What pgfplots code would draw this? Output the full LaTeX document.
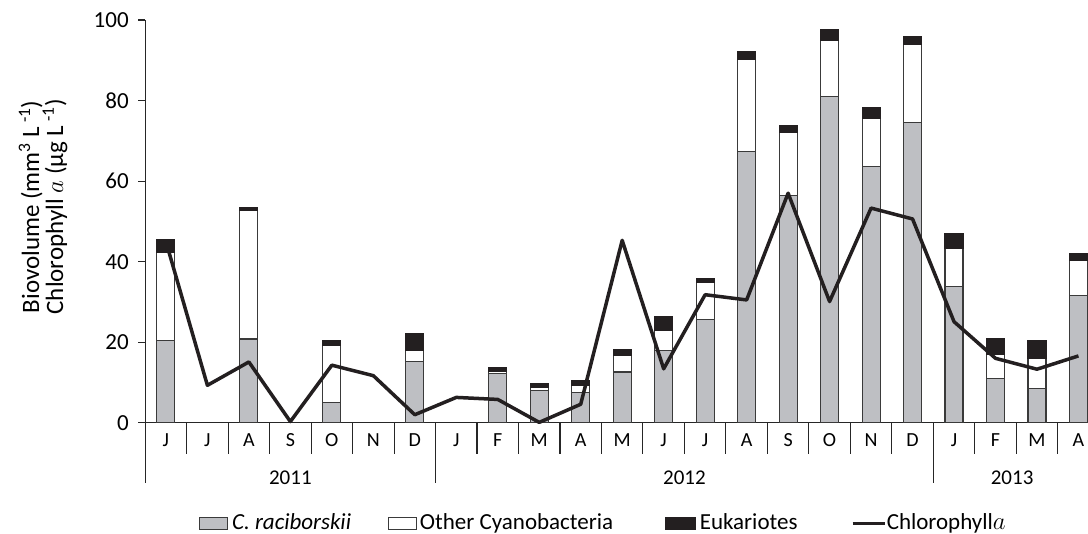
\documentclass[border=0pt]{standalone}
\usepackage{pgfplots}
\pgfplotsset{compat=1.18}
\usepackage{fontspec}
\setmainfont{Carlito}
\definecolor{crac}{HTML}{BEBFC3}
\definecolor{euk}{HTML}{231F20}
\definecolor{edge}{HTML}{3A3A3A}

\begin{document}
\begin{tikzpicture}
\begin{axis}[
    at={(145.25pt,110pt)}, anchor=south west,
    scale only axis, width=942.75pt, height=403pt,
    xmin=-0.5, xmax=22.2169, ymin=0, ymax=100,
    ybar stacked, bar width=18pt, reverse stacked plots=false,
    axis x line*=bottom, axis y line*=left,
    axis line style={line width=1.1pt, color=black!85},
    xtick={0,...,22},
    xticklabels={J,J,A,S,O,N,D,J,F,M,A,M,J,J,A,S,O,N,D,J,F,M,A},
    xtick style={draw=none},
    xticklabel style={font=\fontsize{20}{24}\selectfont, anchor=center, yshift=-17pt},
    ytick={0,20,...,100},
    ytick align=outside, major tick length=7pt,
    ytick style={line width=1.1pt, color=black!85},
    yticklabel style={font=\fontsize{23}{27}\selectfont, xshift=-6pt},
    /pgf/number format/assume math mode=true,
    clip=false,
]
% C. raciborskii
\addplot[fill=crac, draw=edge, line width=1.1pt] coordinates {
    (0,20.4) (2,20.8) (4,5.0) (6,15.3) (8,12.3) (9,8.1) (10,7.5) (11,12.6)
    (12,17.9) (13,25.6) (14,67.3) (15,56.4) (16,81.0) (17,63.6) (18,74.6)
    (19,33.8) (20,11.1) (21,8.4) (22,31.6)};
% other cyanobacteria
\addplot[fill=white, draw=edge, line width=1.1pt] coordinates {
    (0,22.0) (2,31.8) (4,14.1) (6,2.7) (8,0.5) (9,0.7) (10,1.7) (11,4.1)
    (12,5.1) (13,9.2) (14,22.9) (15,15.7) (16,14.0) (17,12.0) (18,19.4)
    (19,9.5) (20,5.8) (21,7.6) (22,8.6)};
% eukaryotes
\addplot[fill=euk, draw=euk, line width=1.1pt] coordinates {
    (0,3.0) (2,0.9) (4,1.2) (6,4.2) (8,1.0) (9,1.0) (10,1.2) (11,1.4)
    (12,3.4) (13,1.0) (14,1.9) (15,1.8) (16,2.7) (17,2.6) (18,1.8)
    (19,3.6) (20,4.1) (21,4.4) (22,1.7)};
% chlorophyll a
\addplot[sharp plot, stack plots=false, line width=3.5pt, color=euk, line join=round] coordinates {
    (0,45.0) (1,9.3) (2,15.1) (3,0.3) (4,14.3) (5,11.7) (6,2.0) (7,6.3)
    (8,5.8) (9,0.1) (10,4.6) (11,45.3) (12,13.4) (13,31.8) (14,30.5)
    (15,57.0) (16,30.1) (17,53.3) (18,50.6) (19,25.1) (20,16.0) (21,13.3) (22,16.6)};

% month and year separators
\pgfplotsinvokeforeach{0,...,21}{
    \draw[line width=1.1pt, color=black!85] (axis cs:#1.5,0) -- ++(0pt,-31pt);
}
\draw[line width=1.1pt, color=black!85] (axis cs:-0.5,0) -- ++(0pt,-60pt);
\draw[line width=1.1pt, color=black!85] (axis cs:6.5,0) -- ++(0pt,-60pt);
\draw[line width=1.1pt, color=black!85] (axis cs:18.5,0) -- ++(0pt,-60pt);
\node[font=\fontsize{21}{25}\selectfont] at ([yshift=-55pt]axis cs:3,0) {2011};
\node[font=\fontsize{21}{25}\selectfont] at ([yshift=-55pt]axis cs:12.5,0) {2012};
\node[font=\fontsize{21}{25}\selectfont] at ([yshift=-55pt]axis cs:20.4,0) {2013};
\end{axis}

% y label
\node[rotate=90, align=center, font=\fontsize{25}{24}\selectfont] at (43pt,326pt)
    {Biovolume (mm\textsuperscript{3} L\textsuperscript{ -1})\\Chlorophyll $a$ (µg L\textsuperscript{ -1})};

% legend
\filldraw[fill=crac, draw=edge, line width=1pt] (200pt,3pt) rectangle (228pt,15pt);
\node[anchor=base west, inner sep=0, font=\fontsize{23}{27}\selectfont\itshape] at (232pt,3pt) {C. raciborskii};
\filldraw[fill=white, draw=edge, line width=1pt] (389pt,3pt) rectangle (417pt,15pt);
\node[anchor=base west, inner sep=0, font=\fontsize{23}{27}\selectfont] at (420pt,3pt) {Other Cyanobacteria};
\filldraw[fill=euk, draw=euk, line width=1pt] (666pt,3pt) rectangle (696pt,15pt);
\node[anchor=base west, inner sep=0, font=\fontsize{23}{27}\selectfont] at (700pt,3pt) {Eukariotes};
\draw[color=euk, line width=3pt] (853pt,9pt) -- (885pt,9pt);
\node[anchor=base west, inner sep=0, font=\fontsize{23}{27}\selectfont] at (887pt,3pt) {Chlorophyll$a$};
\path (0pt,0pt) (1088pt,533pt);
\end{tikzpicture}
\end{document}
